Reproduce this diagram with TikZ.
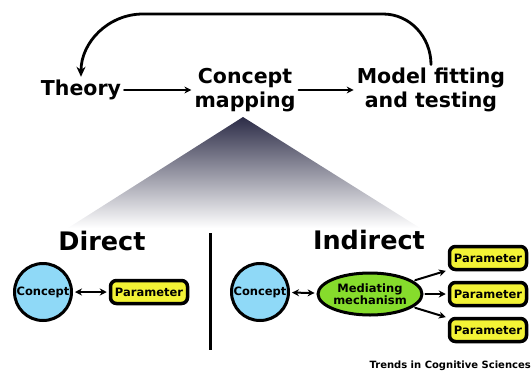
\documentclass[tikz,border=0pt]{standalone}
\usepackage{fontspec}
\setmainfont{DejaVu Sans}
\usetikzlibrary{shapes.geometric,shadows,arrows.meta}
\definecolor{conceptblue}{HTML}{8FD9F7}
\definecolor{paramyellow}{HTML}{F3F335}
\definecolor{mechgreen}{HTML}{86DC2C}
\definecolor{tritop}{HTML}{2C2C47}
\tikzset{
  stage/.style={font=\bfseries\fontsize{20.5}{24.5}\selectfont, align=center, inner sep=3pt},
  heading/.style={font=\bfseries\fontsize{25.5}{28}\selectfont, inner sep=0pt},
  small/.style={font=\bfseries\fontsize{11.5}{12.5}\selectfont},
  softshadow/.style={drop shadow={opacity=0.35, shadow xshift=1.2pt, shadow yshift=-1.2pt}},
  conceptnode/.style={small, circle, draw, line width=3pt, fill=conceptblue, minimum size=57pt, inner sep=0pt, softshadow},
  paramnode/.style={small, rectangle, rounded corners=6pt, draw, line width=3.5pt, fill=paramyellow, minimum width=77pt, minimum height=23pt, inner sep=0pt, softshadow},
  mechnode/.style={small, ellipse, draw, line width=3pt, fill=mechgreen, minimum width=90pt, minimum height=42pt, inner sep=0pt, align=center, softshadow},
  link/.style={line width=2pt, shorten <=2pt, shorten >=2pt}
}
\begin{document}
\begin{tikzpicture}[x=1pt, y=-1pt, >={Stealth[length=7pt,width=7pt]}, line cap=round]
  \useasboundingbox (0,0) rectangle (532,372);
  % spread of the mapping step
  \shade[top color=tritop, bottom color=white] (243,117) -- (420,228) -- (68,228) -- cycle;

  % top row
  \node[stage] (theory) at (81,90) {Theory};
  \node[stage] (mapping) at (245,90) {Concept\\mapping};
  \node[stage] (model) at (431,90) {Model fitting\\and testing};
  \draw[->, line width=2pt] (theory) -- (mapping);
  \draw[->, line width=2pt] (mapping) -- (model);
  \coordinate (loopR) at (383,14);
  \coordinate (loopL) at (143,14);
  \draw[-{Stealth[length=10pt,width=9pt]}, line width=2.8pt] (model.north) to[out=90, in=0] (loopR) -- (loopL) to[out=180, in=90] (theory.north);

  % headings and divider
  \node[heading] (direct) at (102,241) {Direct};
  \node[heading] (indirect) at (369,240) {Indirect};
  \draw[line width=3pt, line cap=butt] (210,233) -- (210,350);

  % direct mapping
  \node[conceptnode] (conceptL) at (43,292) {Concept};
  \node[paramnode] (paramL) at (149,292) {Parameter};
  \draw[<->, link] (conceptL) -- (paramL);

  % indirect mapping
  \node[conceptnode] (conceptR) at (260,292) {Concept};
  \node[mechnode] (mech) at (370,294) {Mediating\\mechanism};
  \node[paramnode] (paramA) at (488,258) {Parameter};
  \node[paramnode] (paramB) at (488,294) {Parameter};
  \node[paramnode] (paramC) at (488,330) {Parameter};
  \draw[<->, link] (conceptR) -- (mech);
  \draw[->, link] (mech) -- (paramA);
  \draw[->, link] (mech) -- (paramB);
  \draw[->, link] (mech) -- (paramC);

  \node[anchor=base east, inner sep=0pt, font=\bfseries\fontsize{10}{11}\selectfont] (source) at (531,368) {Trends in Cognitive Sciences};
\end{tikzpicture}
\end{document}
